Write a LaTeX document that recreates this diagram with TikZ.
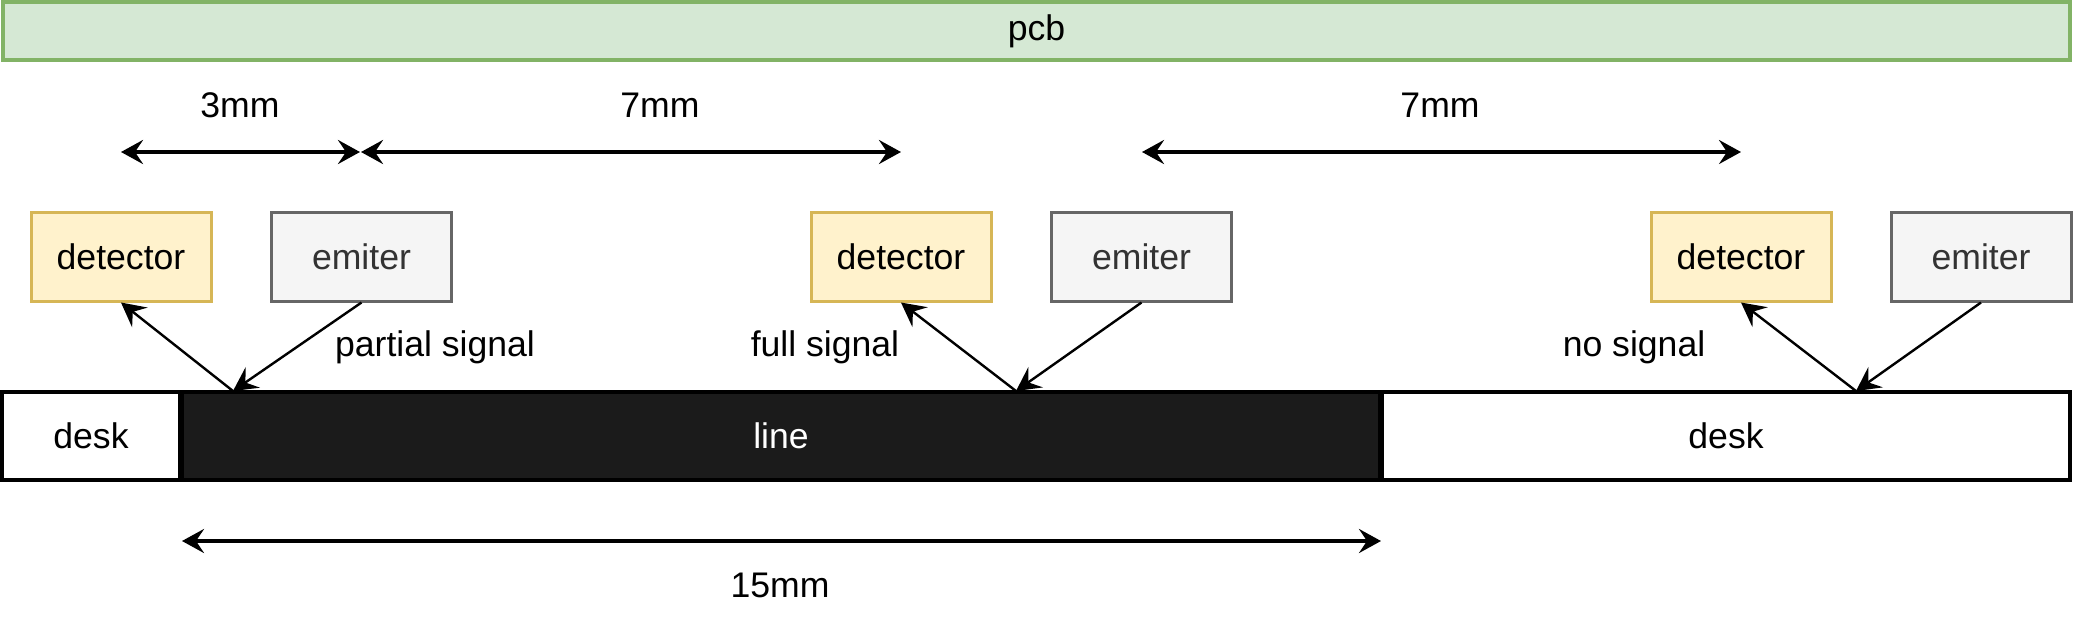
\documentclass[tikz,border=0pt]{standalone}
\usepackage{fontspec}
\setmainfont{Liberation Sans}
\usetikzlibrary{arrows.meta}
\definecolor{pcbfill}{HTML}{D5E8D4}
\definecolor{pcbline}{HTML}{82B366}
\definecolor{detfill}{HTML}{FFF2CC}
\definecolor{detline}{HTML}{D6B656}
\definecolor{emifill}{HTML}{F5F5F5}
\definecolor{emiline}{HTML}{666666}
\definecolor{emitext}{HTML}{333333}
\definecolor{linefill}{HTML}{1B1B1B}
\tikzset{
  box/.style={draw,line width=1.5pt,minimum width=90pt,minimum height=44.5pt,inner sep=0pt},
  detbox/.style={box,fill=detfill,draw=detline},
  emibox/.style={box,fill=emifill,draw=emiline,text=emitext},
  strip/.style={draw=black,line width=1.7pt,minimum height=44pt,inner sep=0pt},
  dimarrow/.style={line width=1.8pt,{Stealth[length=11pt,width=12pt,inset=4pt]}-{Stealth[length=11pt,width=12pt,inset=4pt]}},
  ray/.style={line width=1.2pt,-{Stealth[length=12pt,width=12.5pt,inset=4.5pt]}}
}
\begin{document}
\begin{tikzpicture}[x=0.5pt,y=-0.5pt,font=\fontsize{17.8pt}{21pt}\selectfont]
\useasboundingbox (0,0) rectangle (2073,633);

\node[draw=pcbline,fill=pcbfill,line width=1.7pt,minimum width=1033.5pt,minimum height=29pt,inner sep=0pt] (pcb) at (1036.5,31) {pcb};

\coordinate (d1l) at (121,152);
\coordinate (d1r) at (360,152);
\coordinate (d2l) at (361,152);
\coordinate (d2r) at (901,152);
\coordinate (d3l) at (1142,152);
\coordinate (d3r) at (1741,152);
\draw[dimarrow] (d1l) -- (d1r);
\draw[dimarrow] (d2l) -- (d2r);
\draw[dimarrow] (d3l) -- (d3r);
\node (l3mm) at (240,105) {3mm};
\node (l7mma) at (660,105) {7mm};
\node (l7mmb) at (1440,105) {7mm};

\node[detbox] (det1) at (121,256.5) {detector};
\node[emibox] (emi1) at (361.5,256.5) {emiter};
\node[detbox] (det2) at (901,256.5) {detector};
\node[emibox] (emi2) at (1141.5,256.5) {emiter};
\node[detbox] (det3) at (1741,256.5) {detector};
\node[emibox] (emi3) at (1981,256.5) {emiter};

\node[strip,fill=white,minimum width=89pt] (deskl) at (91,436) {desk};
\node[strip,fill=linefill,text=white,minimum width=599pt] (line) at (781,436) {line};
\node[strip,fill=white,minimum width=344pt] (deskr) at (1726,436) {desk};

\coordinate (hit1) at (233,391);
\coordinate (hit2) at (1016,391);
\coordinate (hit3) at (1856,391);
\draw[ray] (emi1.south) -- (hit1);
\draw[ray] (hit1) -- (det1.south);
\draw[ray] (emi2.south) -- (hit2);
\draw[ray] (hit2) -- (det2.south);
\draw[ray] (emi3.south) -- (hit3);
\draw[ray] (hit3) -- (det3.south);

\node (partial) at (435,347) {partial signal};
\node (full) at (825,347) {full signal};
\node (none) at (1634,347) {no signal};

\coordinate (d4l) at (182,541);
\coordinate (d4r) at (1381,541);
\draw[dimarrow] (d4l) -- (d4r);
\node (l15mm) at (780,585) {15mm};
\end{tikzpicture}
\end{document}
